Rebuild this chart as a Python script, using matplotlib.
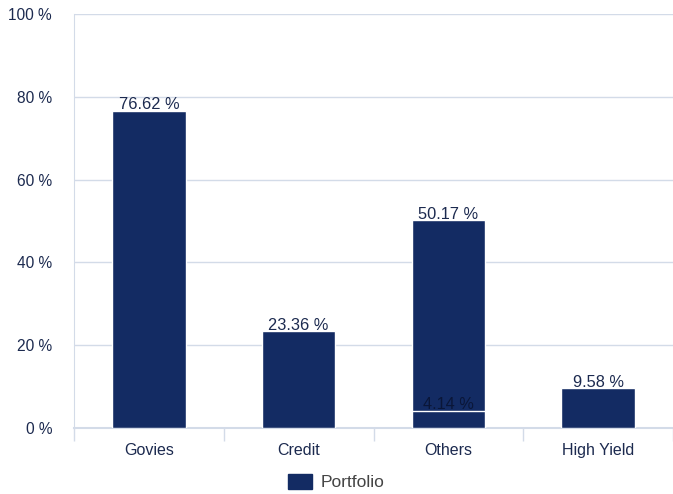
import matplotlib
matplotlib.use("Agg")
import matplotlib.pyplot as plt
from matplotlib.patches import Patch

categories = ["Govies", "Credit", "Others", "High Yield"]
portfolio = [76.62, 23.36, 50.17, 9.58]
# second overlapping value in "Others"
extra_cat = ["Others"]
extra_val = [4.14]
yticks = [0, 20, 40, 60, 80, 100]

BAR = "#132b63"
GRID = "#d3dbe8"
TXT = "#1c2a4f"

plt.rcParams["font.family"] = ["Liberation Sans", "DejaVu Sans"]

fig = plt.figure(figsize=(6.73, 4.94), dpi=100)
W, H = 673, 494
left, right, top, bottom = 74, 673, 14, 428
ax = fig.add_axes([left / W, 1 - bottom / H, (right - left) / W, (bottom - top) / H])

xs = list(range(len(categories)))
ax.bar(xs, portfolio, width=0.49, color=BAR, edgecolor="white", linewidth=1, zorder=3)
ex = [categories.index(c) for c in extra_cat]
ax.bar(ex, extra_val, width=0.49, color=BAR, edgecolor="white", linewidth=1, zorder=4)

for x, v in zip(xs, portfolio):
    ax.annotate(f"{v:.2f} %", (x, v), xytext=(0, 1.2), textcoords="offset points",
                ha="center", va="baseline", fontsize=11.8, color=TXT, zorder=5)
for x, v in zip(ex, extra_val):
    ax.annotate(f"{v:.2f} %", (x, v), xytext=(0, 1.2), textcoords="offset points",
                ha="center", va="baseline", fontsize=11.8, color="#0a1638", zorder=5)

ax.set_ylim(0, 100)
ax.set_xlim(-0.5, -0.5 + (right - left) / 150.75)
ax.set_yticks(yticks)
ax.set_yticklabels([f"{t} %" for t in yticks], fontsize=11.2, color=TXT)
ax.tick_params(axis="y", length=0, pad=15.8)
ax.yaxis.grid(True, color=GRID, linewidth=1)
ax.set_axisbelow(True)

ax.set_xticks(xs)
ax.set_xticklabels(categories, fontsize=11.5, color=TXT)
ax.tick_params(axis="x", length=0, pad=10.5)
ax.set_xticks([i - 0.5 for i in range(len(categories) + 1)], minor=True)
ax.tick_params(axis="x", which="minor", length=9, color=GRID, width=1)

for s in ["top", "right"]:
    ax.spines[s].set_visible(False)
ax.spines["left"].set_color(GRID)
ax.spines["bottom"].set_color(GRID)
ax.spines["bottom"].set_linewidth(1.5)

fig.legend(handles=[Patch(color=BAR, label="Portfolio")], loc="center",
           bbox_to_anchor=(0.5, 1 - 482 / H), frameon=False, fontsize=12.5,
           handlelength=1.4, handleheight=1.0, handletextpad=0.5,
           labelcolor="#444444")

fig.savefig("out.png", dpi=100)
